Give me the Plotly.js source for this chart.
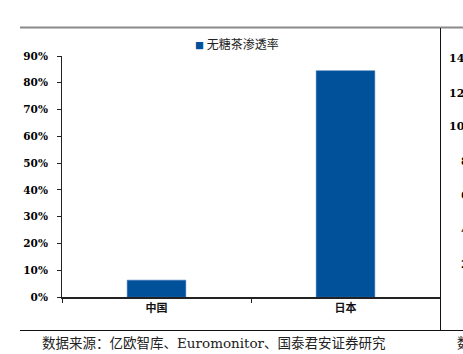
<!DOCTYPE html>
<html>
<head>
<meta charset="utf-8">
<script src="https://cdn.plot.ly/plotly-3.0.1.min.js"></script>
<style>html,body{margin:0;padding:0;background:#fff;overflow:hidden}#chart{width:463px;height:354px}</style>
</head>
<body>
<div id="chart"></div>
<script>
// Data
const categories = ['中国', '日本'];
const penetration = [6.3, 84.5];           // 无糖茶渗透率 (%)
const seriesName = '无糖茶渗透率';
const yTicks = [0, 10, 20, 30, 40, 50, 60, 70, 80, 90];
const yTickText = ['0%', '10%', '20%', '30%', '40%', '50%', '60%', '70%', '80%', '90%'];
const sourceText = '数据来源：亿欧智库、Euromonitor、国泰君安证券研究';
const rightLabels = ['14', '12', '10', '8', '6', '4', '2'];   // cut-off neighbouring chart axis
const nextSource = '数据来源';
const barColor = '#00509A';

// pixel helpers for decoration (plot area: x 62..440, y 56..297)
const L = 62, R = 440, T = 56, B = 297;
const px = x => (x - L) / (R - L);
const py = y => (B - y) / (B - T);

const serif = 'DejaVu Serif, serif';
const cjk = 'DejaVu Serif, Noto Sans CJK SC, serif';

const annotations = [
  {xref: 'paper', yref: 'paper', x: px(40), y: py(343), xanchor: 'left', yanchor: 'middle',
   text: sourceText, showarrow: false, font: {family: cjk, size: 13.5, color: '#222'}},
  {xref: 'paper', yref: 'paper', x: px(455), y: py(343), xanchor: 'left', yanchor: 'middle',
   text: nextSource, showarrow: false, font: {family: cjk, size: 13.5, color: '#222'}},
  {xref: 'paper', yref: 'paper', x: px(193), y: py(44), xanchor: 'left', yanchor: 'middle',
   text: '<span style="color:' + barColor + ';font-size:9px">■</span> ' + seriesName,
   showarrow: false, font: {family: 'Noto Sans CJK SC, sans-serif', size: 12, color: '#222'}}
];
const rightY = [59, 93, 127, 161, 196, 230, 264];
rightLabels.forEach((t, i) => {
  annotations.push({xref: 'paper', yref: 'paper', x: px(t.length > 1 ? 447 : 459), y: py(rightY[i]),
    xanchor: 'left', yanchor: 'middle', text: t, showarrow: false,
    font: {family: serif, size: 11, color: '#000', weight: 'bold'}});
});

const shapes = [
  {type: 'line', xref: 'paper', yref: 'paper', x0: px(20), x1: px(470), y0: py(27.5), y1: py(27.5),
   line: {color: '#8a8a8a', width: 2}},
  {type: 'line', xref: 'paper', yref: 'paper', x0: px(440.5), x1: px(440.5), y0: py(28), y1: py(330),
   line: {color: '#111', width: 1}},
  {type: 'line', xref: 'paper', yref: 'paper', x0: px(20), x1: px(470), y0: py(330.5), y1: py(330.5),
   line: {color: '#111', width: 1}}
];

const trace = {
  type: 'bar', x: categories, y: penetration, name: seriesName,
  width: 0.31,
  marker: {color: barColor, line: {color: '#2f6fb0', width: 0.5}},
  hoverinfo: 'x+y'
};

const layout = {
  width: 463, height: 354,
  margin: {l: L, r: 463 - R, t: T, b: 354 - B, pad: 0},
  paper_bgcolor: '#fff', plot_bgcolor: '#fff',
  showlegend: false,
  xaxis: {
    type: 'category', showline: true, linecolor: '#222', linewidth: 2,
    ticks: 'outside', tickson: 'boundaries', ticklen: 4, tickcolor: '#222', tickwidth: 1,
    tickfont: {family: 'Noto Sans CJK SC, sans-serif', size: 11, color: '#111', weight: 'bold'},
    showgrid: false, zeroline: false, fixedrange: true
  },
  yaxis: {
    range: [0, 90], tickmode: 'array', tickvals: yTicks, ticktext: yTickText,
    showline: true, linecolor: '#222', linewidth: 1,
    ticks: 'outside', ticklen: 4, tickcolor: '#222', tickwidth: 1,
    ticklabelstandoff: 7,
    tickfont: {family: serif, size: 10.5, color: '#000', weight: 'bold'},
    showgrid: false, zeroline: false, fixedrange: true
  },
  annotations: annotations,
  shapes: shapes
};

Plotly.newPlot('chart', [trace], layout, {displayModeBar: false, staticPlot: true});
</script>
</body>
</html>
